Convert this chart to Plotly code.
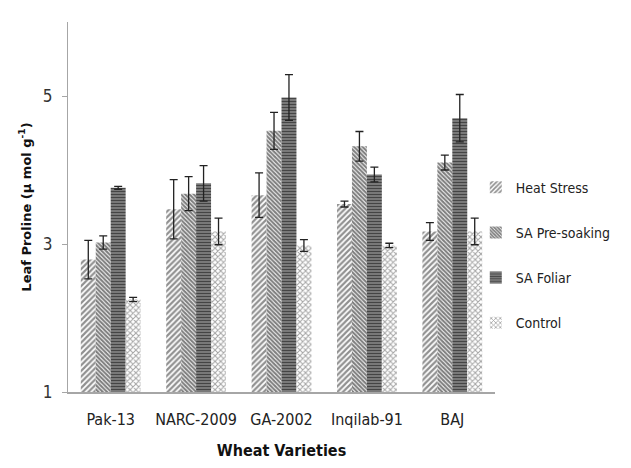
import plotly.graph_objects as go

varieties = ["Pak-13", "NARC-2009", "GA-2002", "Inqilab-91", "BAJ"]
series = ["Heat Stress", "SA Pre-soaking", "SA Foliar", "Control"]
heat_stress = [2.79, 3.47, 3.66, 3.54, 3.17]
heat_stress_err = [0.26, 0.40, 0.30, 0.04, 0.12]
sa_presoaking = [3.02, 3.68, 4.53, 4.32, 4.10]
sa_presoaking_err = [0.09, 0.23, 0.25, 0.20, 0.10]
sa_foliar = [3.76, 3.82, 4.98, 3.94, 4.70]
sa_foliar_err = [0.02, 0.24, 0.31, 0.10, 0.32]
control = [2.25, 3.17, 2.98, 2.98, 3.17]
control_err = [0.03, 0.18, 0.08, 0.03, 0.18]
axis_min = 1

values = [heat_stress, sa_presoaking, sa_foliar, control]
errors = [heat_stress_err, sa_presoaking_err, sa_foliar_err, control_err]
patterns = [
    dict(shape="/", fgcolor="#222222", bgcolor="white", size=4, solidity=0.55),
    dict(shape="\\", fgcolor="#000000", bgcolor="white", size=3, solidity=0.7),
    dict(shape="-", fgcolor="#000000", bgcolor="#8a8a8a", size=3, solidity=0.5),
    dict(shape="x", fgcolor="#4a4a4a", bgcolor="white", size=4, solidity=0.45),
]

font_family = "DejaVu Sans Condensed, Liberation Sans Narrow, sans-serif"

fig = go.Figure()
for i, name in enumerate(series):
    fig.add_trace(go.Bar(
        x=varieties, y=[v - axis_min for v in values[i]], base=axis_min, name=name,
        marker=dict(color="white", line=dict(width=0), pattern=patterns[i]),
        error_y=dict(type="data", array=errors[i], color="#222222", thickness=1.3, width=4),
        legendgroup=name,
    ))

fig.update_layout(
    width=623, height=460,
    margin=dict(l=60, r=136, t=14, b=76, autoexpand=False),
    plot_bgcolor="white", paper_bgcolor="white",
    barmode="group", bargap=0.30, bargroupgap=0,
    font=dict(family=font_family, size=14, color="#222222"),
    showlegend=True,
    legend=dict(x=0.955, y=0.37, yanchor="middle", xanchor="left", itemwidth=30,
                font=dict(family=font_family, size=14, color="#222222"),
                tracegroupgap=24, bgcolor="rgba(0,0,0,0)"),
    xaxis=dict(showline=True, linecolor="#a6a6a6", linewidth=1.5, ticks="", automargin=False,
               ticklabelstandoff=12,
               tickfont=dict(family=font_family, size=16, color="#222222"),
               title=dict(text="<b>Wheat Varieties</b>", font=dict(family=font_family, size=16, color="#111111"), standoff=17)),
    yaxis=dict(range=[1, 6], tickvals=[1, 3, 5], showline=True, linecolor="#a6a6a6", linewidth=1.2,
               ticks="outside", tickcolor="#a6a6a6", ticklen=5, showgrid=False, zeroline=False,
               automargin=False, ticklabelstandoff=6,
               tickfont=dict(family=font_family, size=17, color="#333333"),
               title=dict(text="<b>Leaf Proline (μ mol g<sup>-1</sup>)</b>", font=dict(family="DejaVu Sans, sans-serif", size=13, color="#111111"), standoff=8)),
)
fig.write_html("out.html")
